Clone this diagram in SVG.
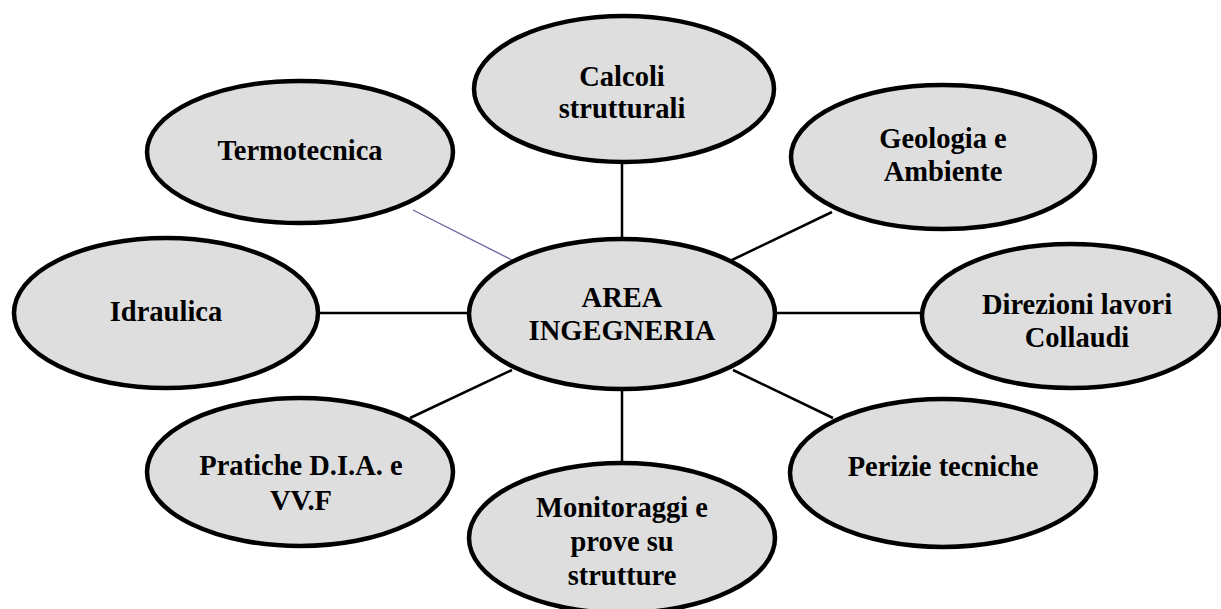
<svg xmlns="http://www.w3.org/2000/svg" width="1221" height="609" viewBox="0 0 1221 609">
<style>
.n{fill:#dedede;stroke:#000;stroke-width:4.5}
.t{font-family:"Liberation Serif","Times New Roman",serif;font-weight:bold;font-size:28.5px;fill:#000;text-anchor:middle}
.c{stroke:#000;stroke-width:2.5;fill:none}
.b{stroke:#6a6aa6;stroke-width:1.4;fill:none}
</style>
<rect width="1221" height="609" fill="#fff"/>
<g id="connectors">
<line class="c" x1="622" y1="164" x2="622" y2="240"/>
<line class="b" x1="413" y1="210" x2="512" y2="260"/>
<line class="c" x1="832" y1="212" x2="732" y2="260"/>
<line class="c" x1="318" y1="313" x2="470" y2="313"/>
<line class="c" x1="774" y1="313" x2="924" y2="313"/>
<line class="c" x1="410" y1="418" x2="512" y2="370"/>
<line class="c" x1="833" y1="418" x2="733" y2="370"/>
<line class="c" x1="622" y1="388" x2="622" y2="465"/>
</g>
<g id="calcoli"><ellipse class="n" cx="624" cy="89" rx="150" ry="73"/><text class="t" x="622" y="86">Calcoli</text><text class="t" x="622" y="118">strutturali</text></g>
<g id="termotecnica"><ellipse class="n" cx="300" cy="152" rx="153" ry="71"/><text class="t" x="300" y="160">Termotecnica</text></g>
<g id="geologia"><ellipse class="n" cx="943" cy="157" rx="152" ry="72"/><text class="t" x="943" y="148">Geologia e</text><text class="t" x="943" y="181">Ambiente</text></g>
<g id="idraulica"><ellipse class="n" cx="166" cy="313" rx="152" ry="75"/><text class="t" x="166" y="321">Idraulica</text></g>
<g id="area"><ellipse class="n" cx="622" cy="314" rx="153" ry="75"/><text class="t" x="622" y="307">AREA</text><text class="t" x="622" y="340">INGEGNERIA</text></g>
<g id="direzioni"><ellipse class="n" cx="1071" cy="316" rx="149" ry="72"/><text class="t" x="1077" y="314">Direzioni lavori</text><text class="t" x="1077" y="347">Collaudi</text></g>
<g id="pratiche"><ellipse class="n" cx="300" cy="472" rx="153" ry="74"/><text class="t" x="301" y="475">Pratiche D.I.A. e</text><text class="t" x="301" y="510">VV.F</text></g>
<g id="monitoraggi"><ellipse class="n" cx="622" cy="538" rx="153" ry="75"/><text class="t" x="622" y="517">Monitoraggi e</text><text class="t" x="622" y="551">prove su</text><text class="t" x="622" y="585">strutture</text></g>
<g id="perizie"><ellipse class="n" cx="943" cy="473" rx="153" ry="74"/><text class="t" x="943" y="476">Perizie tecniche</text></g>
</svg>
